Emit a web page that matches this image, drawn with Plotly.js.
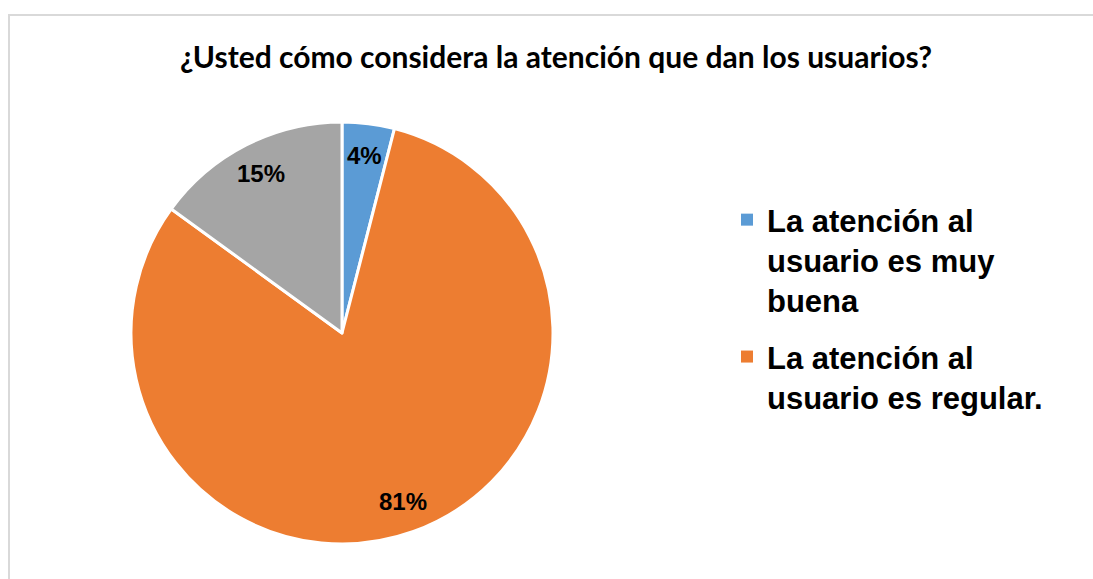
<!DOCTYPE html>
<html>
<head>
<meta charset="utf-8">
<script src="https://cdn.plot.ly/plotly-3.0.1.min.js"></script>
<style>
html,body{margin:0;padding:0;background:#fff;}
#chart{width:1093px;height:579px;}
</style>
</head>
<body>
<div id="chart"></div>
<script>
// ---- data ----
const titleText = '¿Usted cómo considera la atención que dan los usuarios?';
const categories = ['La atención al usuario es muy buena', 'La atención al usuario es regular.', 'Otra'];
const legendLabels = ['La atención al<br>usuario es muy<br>buena', 'La atención al<br>usuario es regular.'];
const values = [4, 81, 15];
const sliceColors = ['#5B9BD5', '#ED7D31', '#A5A5A5'];

const W = 1093, H = 579;
const cxPx = 342, cyPx = 333, Rpx = 211;
const domX = [(cxPx - Rpx) / W, (cxPx + Rpx) / W];
const domY = [1 - (cyPx + Rpx) / H, 1 - (cyPx - Rpx) / H];

const pie = {
  type: 'pie',
  labels: categories,
  values: values,
  sort: false,
  direction: 'clockwise',
  rotation: 0,
  marker: {colors: sliceColors, line: {color: '#ffffff', width: 3}},
  textinfo: 'none',
  domain: {x: domX, y: domY},
  showlegend: false,
  hoverinfo: 'label+percent'
};

const legendTraces = legendLabels.map((name, i) => ({
  type: 'scatter',
  mode: 'markers',
  x: [null], y: [null],
  name: name,
  legendgroup: 'g' + i,
  marker: {symbol: 'square', size: 12, color: sliceColors[i]},
  showlegend: true,
  hoverinfo: 'skip'
}));

// percentage labels placed along each slice's bisector (derived from the values)
const total = values.reduce((a, b) => a + b, 0);
const labelRadius = 0.85;
let cum = 0;
const annotations = values.map(v => {
  const mid = (cum + v / 2) / total * 2 * Math.PI;
  cum += v;
  const dx = Math.sin(mid) * Rpx * labelRadius;
  const dy = -Math.cos(mid) * Rpx * labelRadius;
  return {
    xref: 'paper', yref: 'paper',
    x: (cxPx + dx) / W, y: 1 - (cyPx + dy) / H,
    xanchor: 'center', yanchor: 'middle',
    text: Math.round(v / total * 100) + '%',
    showarrow: false,
    font: {family: 'Liberation Sans, Arial, sans-serif', size: 24, color: '#000000', weight: 'bold'}
  };
});

const layout = {
  width: W, height: H,
  margin: {l: 0, r: 0, t: 0, b: 0},
  paper_bgcolor: '#ffffff',
  plot_bgcolor: 'rgba(0,0,0,0)',
  xaxis: {visible: false}, yaxis: {visible: false},
  title: {
    text: '<b>' + titleText + '</b>',
    x: 556 / W, xanchor: 'center',
    y: 1 - 57 / H, yanchor: 'middle',
    font: {family: 'Lato, Noto Sans, sans-serif', size: 30, color: '#000000'}
  },
  annotations: annotations,
  legend: {
    x: 727 / W, xanchor: 'left',
    y: 1 - 193 / H, yanchor: 'top',
    valign: 'top',
    font: {family: 'Liberation Sans, Arial, sans-serif', size: 31, color: '#000000', weight: 'bold'},
    tracegroupgap: 13,
    bgcolor: 'rgba(0,0,0,0)'
  },
  shapes: [{
    type: 'rect', xref: 'paper', yref: 'paper',
    x0: 9 / W, x1: 1.02, y0: -0.02, y1: 1 - 15 / H,
    line: {color: '#d9d9d9', width: 2}, fillcolor: 'rgba(0,0,0,0)', layer: 'below'
  }]
};

Plotly.newPlot('chart', [pie].concat(legendTraces), layout, {displayModeBar: false, staticPlot: true});
</script>
</body>
</html>
